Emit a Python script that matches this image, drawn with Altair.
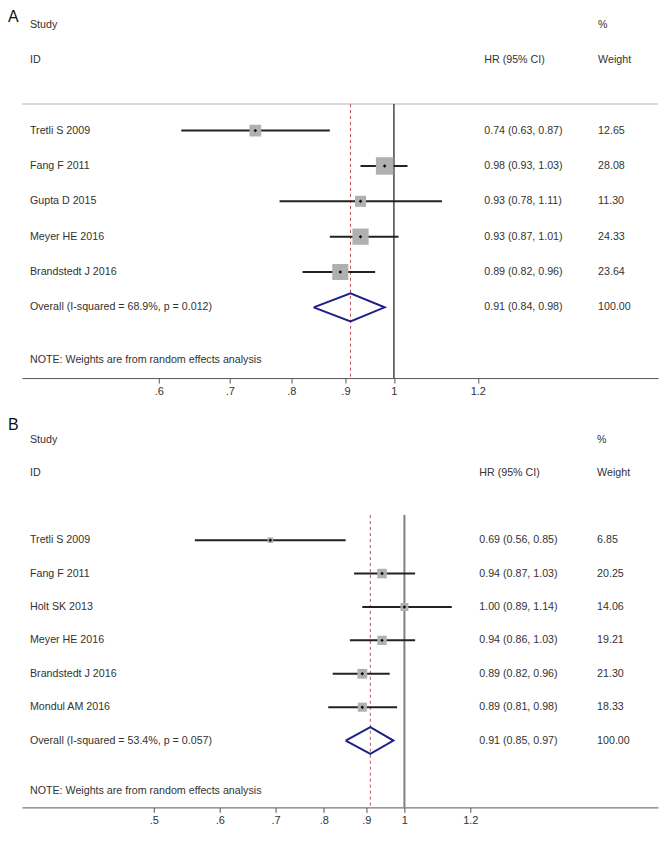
import altair as alt
import pandas as pd

# ---------------- Panel A data ----------------
A_study = ["Tretli S 2009", "Fang F 2011", "Gupta D 2015", "Meyer HE 2016", "Brandstedt J 2016"]
A_hr = [0.74, 0.98, 0.93, 0.93, 0.89]
A_lo = [0.63, 0.93, 0.78, 0.87, 0.82]
A_hi = [0.87, 1.03, 1.11, 1.01, 0.96]
A_weight = [12.65, 28.08, 11.30, 24.33, 23.64]
A_overall = [0.91, 0.84, 0.98]
A_overall_label = "Overall  (I-squared = 68.9%, p = 0.012)"
A_ticks = [0.6, 0.7, 0.8, 0.9, 1.0, 1.2]

# ---------------- Panel B data ----------------
B_study = ["Tretli S 2009", "Fang F 2011", "Holt SK 2013", "Meyer HE 2016",
           "Brandstedt J 2016", "Mondul AM 2016"]
B_hr = [0.69, 0.94, 1.00, 0.94, 0.89, 0.89]
B_lo = [0.56, 0.87, 0.89, 0.86, 0.82, 0.81]
B_hi = [0.85, 1.03, 1.14, 1.03, 0.96, 0.98]
B_weight = [6.85, 20.25, 14.06, 19.21, 21.30, 18.33]
B_overall = [0.91, 0.85, 0.97]
B_overall_label = "Overall  (I-squared = 53.4%, p = 0.057)"
B_ticks = [0.5, 0.6, 0.7, 0.8, 0.9, 1.0, 1.2]

NOTE = "NOTE: Weights are from random effects analysis"
HEAD_LEFT = ["Study", "ID"]
HEAD_EFFECT = "HR (95% CI)"
HEAD_WEIGHT = ["%", "Weight"]

FONT = "Liberation Sans"
TXT = "#333333"
FS = 10.7
W = 637


def panel(tag, tag_y, study, hr, lo, hi, weight, overall, overall_label, ticks,
          xdomain, row_top, height, box_area, hr_px, wt_px, null_color, null_w,
          top_line):
    n = len(study)
    first = 3
    rows = [first + i for i in range(n)]
    r_over = first + n
    r_note = r_over + 1.5
    r_axis = r_over + 2
    r_line = 2.25

    ys = alt.Scale(domain=[row_top, r_axis], reverse=True, nice=False, zero=False)
    xs = alt.Scale(type="log", domain=xdomain, nice=False)
    xaxis = alt.Axis(values=ticks, title=None, grid=False,
                     labelExpr="replace(toString(datum.value), '0.', '.')",
                     domainColor="#555555", domainWidth=1, tickColor="#555555",
                     tickSize=5, labelFont=FONT, labelFontSize=11, labelColor=TXT,
                     labelPadding=2, labelFlush=False, labelOverlap=False)

    def X(f):
        return alt.X(f, type="quantitative", scale=xs, axis=xaxis)

    def Y(f):
        return alt.Y(f, type="quantitative", scale=ys, axis=None)

    st = pd.DataFrame({"study": study, "hr": hr, "lo": lo, "hi": hi, "w": weight, "r": rows})
    st["ci"] = [f"{h:.2f} ({l:.2f}, {u:.2f})" for h, l, u in zip(hr, lo, hi)]
    st["wt"] = [f"{w:.2f}" for w in weight]

    base = alt.Chart(st)

    ci = base.mark_rule(color="#222222", strokeWidth=2).encode(
        x=X("lo"), x2=alt.X2("hi"), y=Y("r"))
    box = base.mark_square(color="#b0b0b0", opacity=1).encode(
        x=X("hr"), y=Y("r"),
        size=alt.Size("w:Q", scale=alt.Scale(domain=[0, 100], range=[0, box_area * 100]),
                      legend=None))
    dot = base.mark_point(shape="diamond", filled=True, color="black", size=12,
                          opacity=1).encode(x=X("hr"), y=Y("r"))

    lab = base.mark_text(align="left", baseline="middle", font=FONT, fontSize=FS,
                         color=TXT).encode(x=alt.value(8), y=Y("r"), text="study:N")
    cit = base.mark_text(align="left", baseline="middle", font=FONT, fontSize=FS,
                         color=TXT).encode(x=alt.value(hr_px), y=Y("r"), text="ci:N")
    wtt = base.mark_text(align="left", baseline="middle", font=FONT, fontSize=FS,
                         color=TXT).encode(x=alt.value(wt_px), y=Y("r"), text="wt:N")

    ov = pd.DataFrame({
        "t": [overall_label],
        "ci": [f"{overall[0]:.2f} ({overall[1]:.2f}, {overall[2]:.2f})"],
        "wt": ["100.00"], "r": [r_over]})
    ob = alt.Chart(ov)
    ovl = ob.mark_text(align="left", baseline="middle", font=FONT, fontSize=FS,
                       color=TXT).encode(x=alt.value(8), y=Y("r"), text="t:N")
    ovc = ob.mark_text(align="left", baseline="middle", font=FONT, fontSize=FS,
                       color=TXT).encode(x=alt.value(hr_px), y=Y("r"), text="ci:N")
    ovw = ob.mark_text(align="left", baseline="middle", font=FONT, fontSize=FS,
                       color=TXT).encode(x=alt.value(wt_px), y=Y("r"), text="wt:N")

    dia = pd.DataFrame({
        "v": [overall[1], overall[0], overall[2], overall[0], overall[1]],
        "r": [r_over, r_over - 0.4, r_over, r_over + 0.4, r_over],
        "k": [0, 1, 2, 3, 4]})
    diamond = alt.Chart(dia).mark_line(color="#1f1f86", strokeWidth=2,
                                       strokeJoin="miter").encode(
        x=X("v"), y=Y("r"), order="k:Q")

    vl = pd.DataFrame({"v": [1.0], "r": [r_line], "r2": [r_axis]})
    null_line = alt.Chart(vl).mark_rule(color=null_color, strokeWidth=null_w).encode(
        x=X("v"), y=Y("r"), y2=alt.Y2("r2"))
    ol = pd.DataFrame({"v": [overall[0]], "r": [r_line], "r2": [r_axis]})
    dash_line = alt.Chart(ol).mark_rule(color="#c0505a", strokeWidth=1,
                                        strokeDash=[3, 3]).encode(
        x=X("v"), y=Y("r"), y2=alt.Y2("r2"))

    hd = pd.DataFrame({"t": HEAD_LEFT, "r": [0, 1]})
    hleft = alt.Chart(hd).mark_text(align="left", baseline="middle", font=FONT,
                                    fontSize=FS, color=TXT).encode(
        x=alt.value(8), y=Y("r"), text="t:N")
    hw = pd.DataFrame({"t": HEAD_WEIGHT, "r": [0, 1]})
    hright = alt.Chart(hw).mark_text(align="left", baseline="middle", font=FONT,
                                     fontSize=FS, color=TXT).encode(
        x=alt.value(wt_px), y=Y("r"), text="t:N")
    he = pd.DataFrame({"t": [HEAD_EFFECT], "r": [1]})
    heff = alt.Chart(he).mark_text(align="left", baseline="middle", font=FONT,
                                   fontSize=FS, color=TXT).encode(
        x=alt.value(hr_px), y=Y("r"), text="t:N")
    nd = pd.DataFrame({"t": [NOTE], "r": [r_note]})
    note = alt.Chart(nd).mark_text(align="left", baseline="middle", font=FONT,
                                   fontSize=FS, color=TXT).encode(
        x=alt.value(8), y=Y("r"), text="t:N")
    tg = pd.DataFrame({"t": [tag]})
    tagm = alt.Chart(tg).mark_text(align="left", baseline="middle", font=FONT,
                                   fontSize=16, color="#111111").encode(
        x=alt.value(-14), y=alt.value(tag_y), text="t:N")

    layers = []
    if top_line:
        tl = pd.DataFrame({"r": [r_line]})
        layers.append(alt.Chart(tl).mark_rule(color="#dadada", strokeWidth=2).encode(
            x=alt.value(0), x2=alt.value(W), y=Y("r")))
    layers += [null_line, dash_line, ci, box, dot, diamond,
               lab, cit, wtt, ovl, ovc, ovw, hleft, hright, heff, note, tagm]
    return alt.layer(*layers).properties(width=W, height=height)


pA = panel("A", 8, A_study, A_hr, A_lo, A_hi, A_weight, A_overall, A_overall_label,
           A_ticks, [0.4457, 1.775], -0.4507, 370, 10.9, 463, 577, "#444444", 1.5, True)
pB = panel("B", 13, B_study, B_hr, B_lo, B_hi, B_weight, B_overall, B_overall_label,
           B_ticks, [0.3471, 2.017], -0.8358, 396, 4.5, 458, 576, "#808080", 2, False)

chart = (
    alt.vconcat(pA, pB, spacing=16)
    .resolve_scale(size="independent", x="independent", y="independent")
    .properties(padding=0)
    .configure(background="white")
    .configure_view(stroke=None)
)

chart.save("out.html", embed_options={"renderer": "svg", "actions": False})
